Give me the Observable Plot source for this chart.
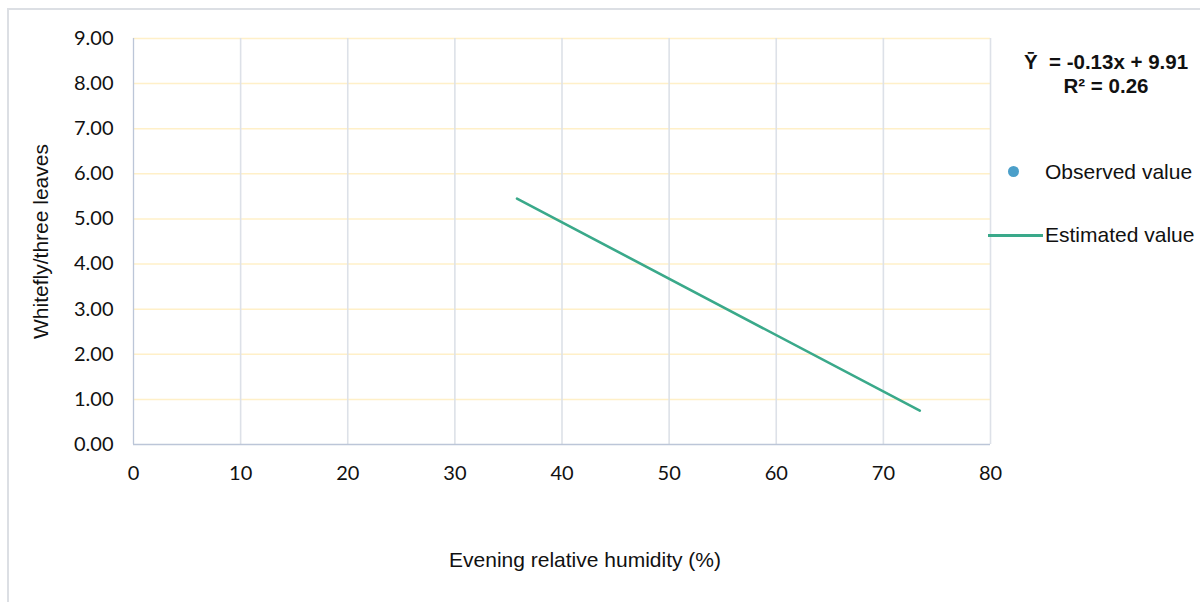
<!DOCTYPE html>
<html>
<head>
<meta charset="utf-8">
<script src="https://cdn.jsdelivr.net/npm/d3@7"></script>
<script src="https://cdn.jsdelivr.net/npm/@observablehq/plot@0.6"></script>
<style>
  html, body { margin: 0; padding: 0; background: #fff; }
  #wrap { position: relative; width: 1200px; height: 602px; overflow: hidden; }
  #border { position: absolute; left: 7px; top: 8px; width: 1300px; height: 700px; border: 2px solid #dcdfe4; box-sizing: border-box; }
  #chart { position: absolute; left: 0; top: 0; }
  .eq { position: absolute; font-family: "Liberation Sans", Arial, sans-serif; font-weight: bold; font-size: 20.5px; color: #111; text-align: center; width: 240px; left: 986px; line-height: 24px; }
  .leg { position: absolute; font-family: "Liberation Sans", Arial, sans-serif; font-size: 21px; color: #111; line-height: 24px; }
</style>
</head>
<body>
<div id="wrap">
  <div id="border"></div>
  <div id="chart"></div>
</div>
<script>
const xTicks = [0, 10, 20, 30, 40, 50, 60, 70, 80];
const yTicks = [0, 1, 2, 3, 4, 5, 6, 7, 8, 9];
const observedX = [];
const observedY = [];
const estimatedX = [35.8, 73.4];
const estimatedY = [5.45, 0.75];
const xTitle = "Evening relative humidity (%)";
const yTitle = "Whitefly/three leaves";
const eqLine1 = "Ȳ  = -0.13x + 9.91";
const eqLine2 = "R² = 0.26";
const legendLabels = ["Observed value", "Estimated value"];

const estimated = estimatedX.map((x, i) => ({x, y: estimatedY[i]}));
const observed = observedX.map((x, i) => ({x, y: observedY[i]}));

const lineColor = "#3aa98a";
const dotColor = "#4b9fc9";

const chart = Plot.plot({
  width: 1200,
  height: 602,
  marginLeft: 133,
  marginRight: 210,
  marginTop: 38,
  marginBottom: 158,
  style: { fontFamily: "Lato, sans-serif", fontSize: "20px", color: "#111", background: "transparent" },
  x: { domain: [0, 80], ticks: xTicks, tickFormat: d => String(d), tickSize: 0, tickPadding: 21,
       label: xTitle, labelAnchor: "center", labelOffset: 122, labelArrow: "none" },
  y: { domain: [0, 9], ticks: yTicks, tickFormat: d => d.toFixed(2), tickSize: 0, tickPadding: 20,
       label: yTitle, labelAnchor: "center", labelOffset: 100, labelArrow: "none" },
  marks: [
    Plot.gridY(yTicks.filter(d => d > 0), { stroke: "#fff0c8", strokeOpacity: 1, strokeWidth: 1.5 }),
    Plot.gridX(xTicks.filter(d => d > 0), { stroke: "#dde1e8", strokeOpacity: 1, strokeWidth: 1.6 }),
    Plot.ruleX([0], { stroke: "#bcc6d8", strokeWidth: 1.3 }),
    Plot.ruleY([0], { stroke: "#bcc6d8", strokeWidth: 1.3 }),
    Plot.dot(observed, { x: "x", y: "y", r: 5, fill: dotColor }),
    Plot.line(estimated, { x: "x", y: "y", stroke: lineColor, strokeWidth: 2.6 })
  ]
});
chart.querySelectorAll("g[aria-label='x-axis label'] text, g[aria-label='y-axis label'] text").forEach(t => {
  t.style.fontFamily = "'Liberation Sans', Arial, sans-serif";
  t.style.fontSize = "21px";
});
const xl = chart.querySelector("g[aria-label='x-axis label']");
if (xl) {
  const prev = xl.getAttribute("transform") || "";
  xl.setAttribute("transform", "translate(23,0) " + prev);
}
document.getElementById("chart").appendChild(chart);

const wrap = document.getElementById("wrap");
function addDiv(cls, text, css) {
  const d = document.createElement("div");
  d.className = cls;
  d.textContent = text;
  Object.assign(d.style, css);
  wrap.appendChild(d);
  return d;
}
addDiv("eq", eqLine1, { top: "50px", whiteSpace: "pre" });
addDiv("eq", eqLine2, { top: "74px" });
// legend symbols
const dot = document.createElement("div");
Object.assign(dot.style, { position: "absolute", left: "1008px", top: "166px", width: "11px", height: "11px", borderRadius: "50%", background: dotColor });
wrap.appendChild(dot);
const ln = document.createElement("div");
Object.assign(ln.style, { position: "absolute", left: "988px", top: "234px", width: "55px", height: "2.5px", background: lineColor });
wrap.appendChild(ln);
addDiv("leg", legendLabels[0], { left: "1045px", top: "160px" });
addDiv("leg", legendLabels[1], { left: "1045px", top: "223px" });
</script>
</body>
</html>
